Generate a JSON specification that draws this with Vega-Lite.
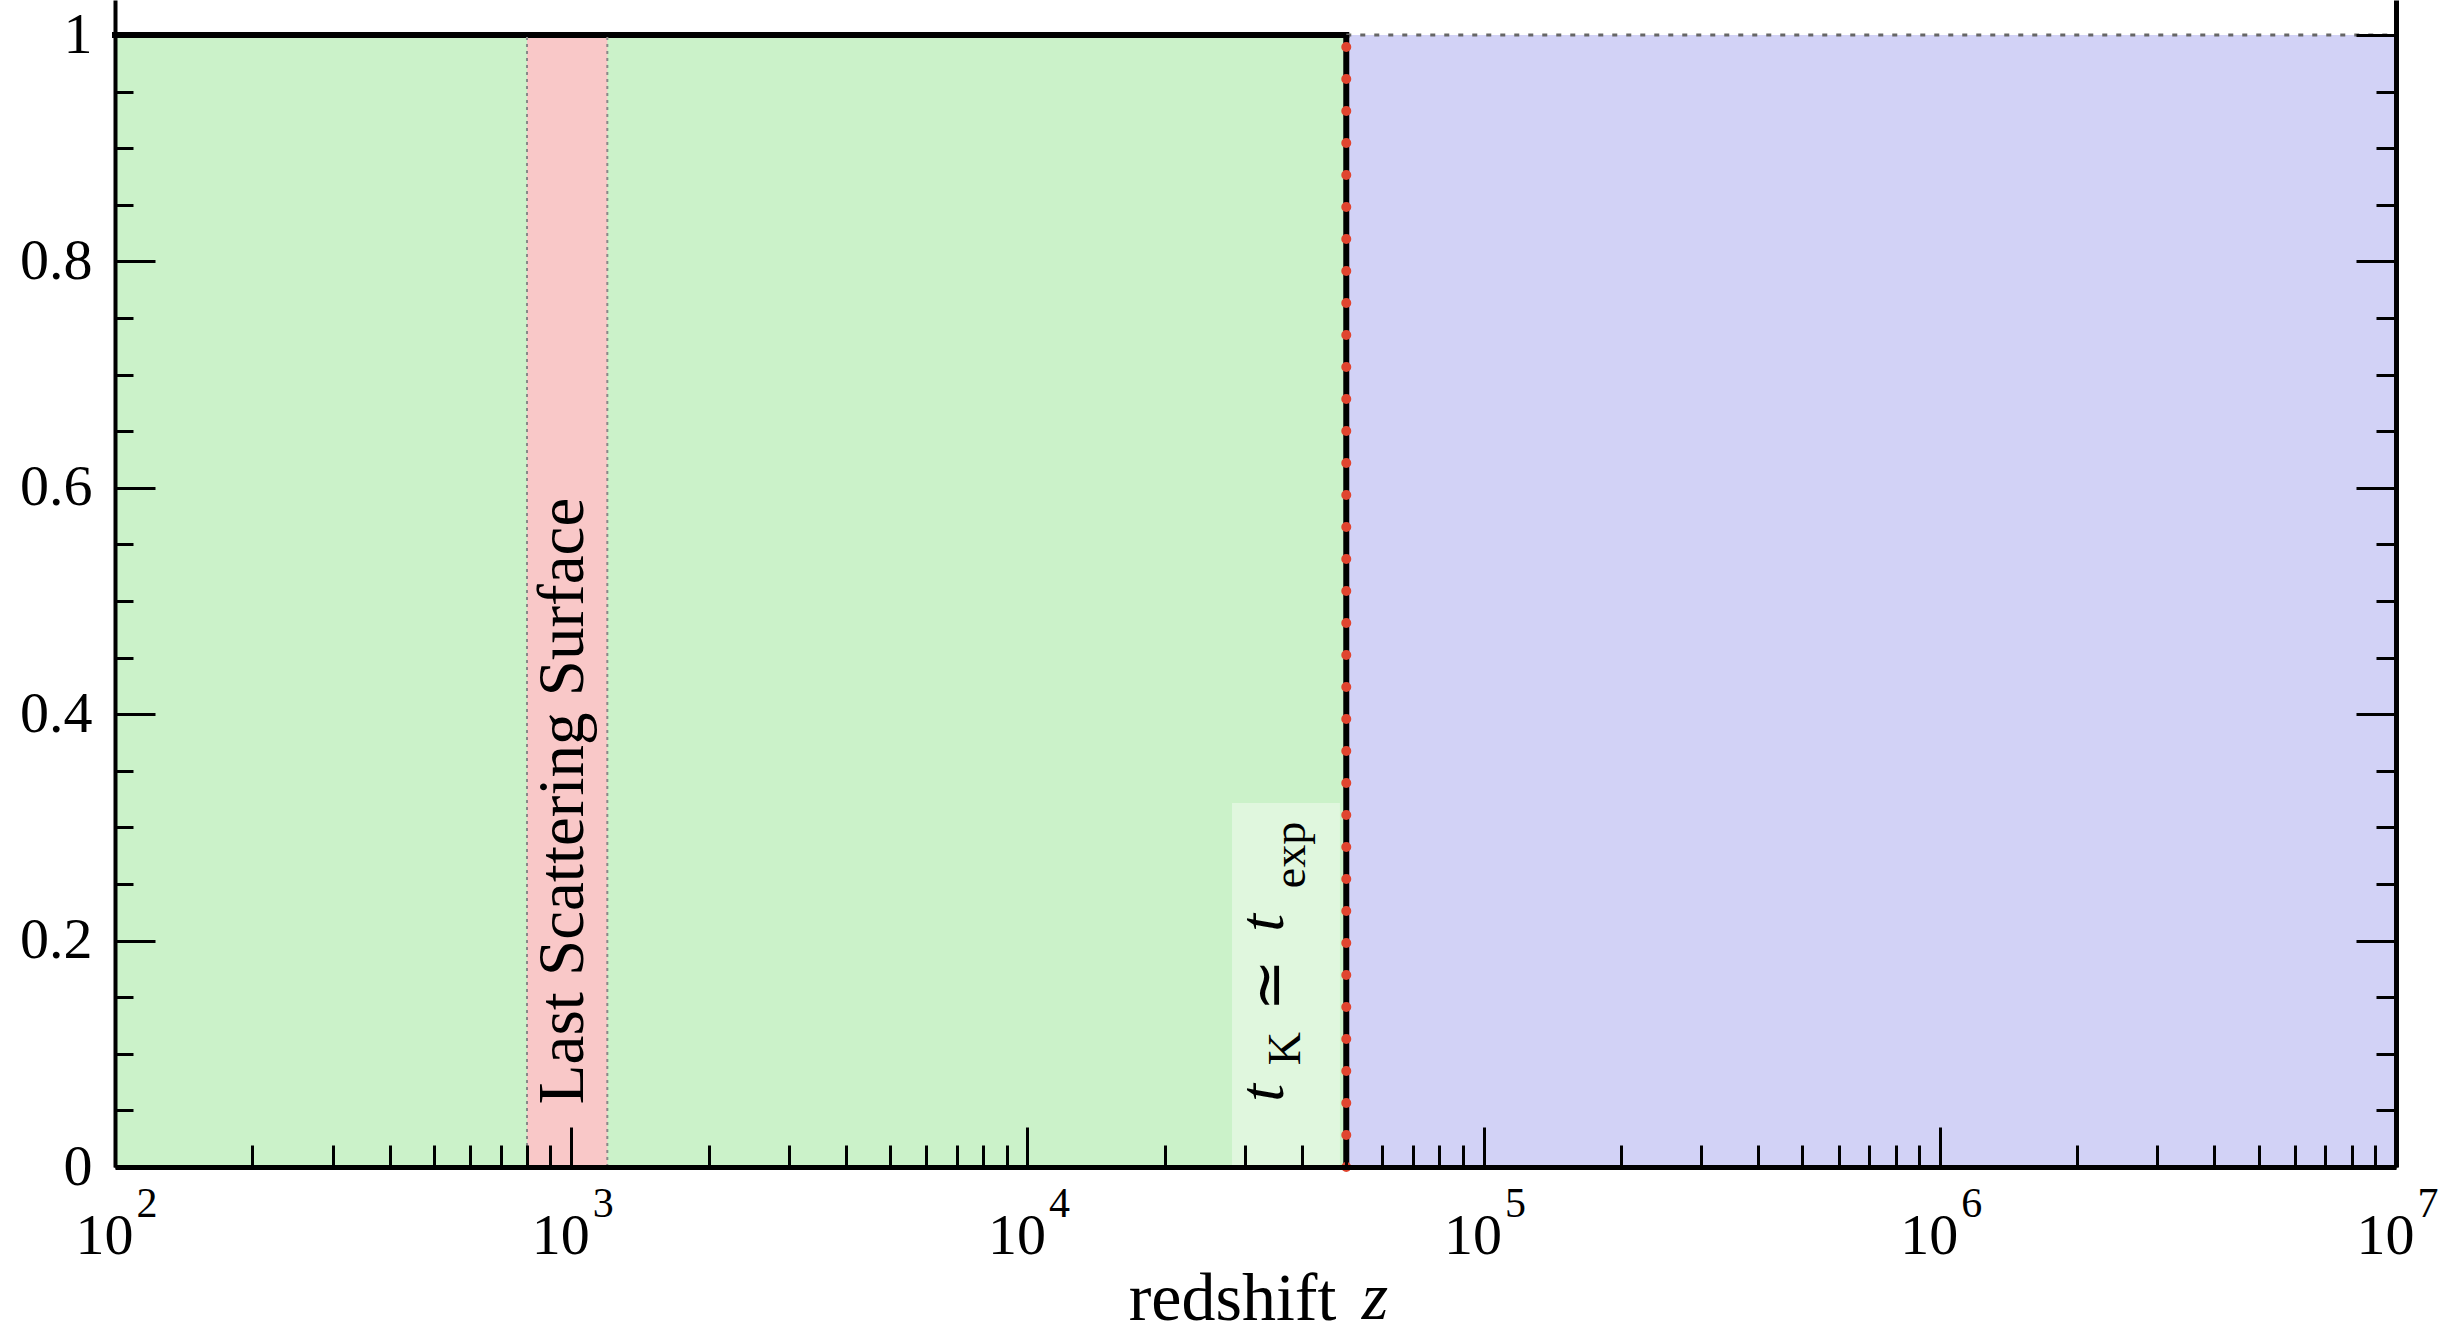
{
  "$schema": "https://vega.github.io/schema/vega-lite/v6.json",
  "width": 2281,
  "height": 1167,
  "autosize": {"type": "none"},
  "padding": {"left": 115, "top": 0, "right": 42, "bottom": 167},
  "background": "white",
  "config": {"view": {"stroke": null}, "font": "Liberation Serif"},
  "datasets": {
    "regions": [
      {"z0": 100, "z1": 50000, "y0": 0, "y1": 1, "r": "green"},
      {"z0": 50000, "z1": 10000000, "y0": 0, "y1": 1, "r": "blue"}
    ],
    "band": [{"z0": 800, "z1": 1200, "y0": 0, "y1": 1}],
    "box": [{"z0": 28090, "z1": 48420, "y0": 0, "y1": 0.3216}],
    "edges": [{"z": 800}, {"z": 1200}],
    "transition": [{"z": 50000}],
    "topleft": [{"z0": 100, "z1": 50000, "y": 1}],
    "topright": [{"z0": 50000, "z1": 10000000, "y": 1}],
    "exps": [
      {"z": 100, "e": "2"}, {"z": 1000, "e": "3"}, {"z": 10000, "e": "4"},
      {"z": 100000, "e": "5"}, {"z": 1000000, "e": "6"}, {"z": 10000000, "e": "7"}
    ],
    "lss": [{"z": 1061, "y": 0.3234, "s": "Last Scattering Surface"}],
    "math": [{"z": 36340, "y": 0.0654, "s": "t"}, {"z": 36340, "y": 0.2156, "s": "t"}],
    "mathsub": [{"z": 39580, "y": 0.1045, "s": "K"}, {"z": 40600, "y": 0.2756, "s": "exp"}],
    "sim": [{"z": 37630, "y": 0.1608, "s": "≃"}]
  },
  "layer": [
    {
      "data": {"name": "regions"},
      "mark": {"type": "rect"},
      "encoding": {
        "x": {"field": "z0", "type": "quantitative",
          "scale": {"type": "log", "domain": [100, 10000000], "nice": false},
          "axis": {"orient": "bottom", "values": [100, 1000, 10000, 100000, 1000000, 10000000],
            "labelExpr": "'10'", "tickSize": -40, "tickWidth": 3, "tickColor": "black",
            "domain": true, "domainWidth": 5, "domainColor": "black",
            "labelFont": "Liberation Serif", "labelFontSize": 58, "labelColor": "black",
            "labelPadding": 126, "labelBaseline": "alphabetic", "labelOffset": -11,
            "labelFlush": false, "labelOverlap": false, "grid": false,
            "title": "redshift", "titleFont": "Liberation Serif", "titleFontSize": 68,
            "titleFontWeight": "normal", "titleColor": "black", "titleX": 1117, "titleY": 152,
            "titleBaseline": "alphabetic", "titleAlign": "center", "zindex": 2}},
        "x2": {"field": "z1"},
        "y": {"field": "y0", "type": "quantitative",
          "scale": {"domain": [0, 1.031], "nice": false, "zero": false},
          "axis": {"orient": "left", "values": [0, 0.2, 0.4, 0.6, 0.8, 1], "format": ".1~f",
            "tickSize": -40, "tickWidth": 3, "tickColor": "black",
            "domain": true, "domainWidth": 4, "domainColor": "black",
            "labelFont": "Liberation Serif", "labelFontSize": 58, "labelColor": "black",
            "labelPadding": 63, "labelBaseline": "middle", "labelFlush": false,
            "labelOverlap": false, "grid": false, "title": null, "zindex": 2}},
        "y2": {"field": "y1"},
        "color": {"field": "r", "type": "nominal",
          "scale": {"domain": ["green", "blue"], "range": ["#cbf2c9", "#d2d2f6"]}, "legend": null}
      }
    },
    {
      "data": {"name": "band"},
      "mark": {"type": "rect", "color": "#f9c8c8"},
      "encoding": {
        "x": {"field": "z0", "type": "quantitative",
          "scale": {"type": "log", "domain": [100, 10000000], "nice": false},
          "axis": {"orient": "bottom",
            "values": [200, 300, 400, 500, 600, 700, 800, 900,
              2000, 3000, 4000, 5000, 6000, 7000, 8000, 9000,
              20000, 30000, 40000, 50000, 60000, 70000, 80000, 90000,
              200000, 300000, 400000, 500000, 600000, 700000, 800000, 900000,
              2000000, 3000000, 4000000, 5000000, 6000000, 7000000, 8000000, 9000000],
            "tickSize": -22, "tickWidth": 3, "tickColor": "black", "labels": false,
            "domain": false, "grid": false, "title": null, "zindex": 2}},
        "x2": {"field": "z1"},
        "y": {"field": "y0", "type": "quantitative",
          "scale": {"domain": [0, 1.031], "nice": false, "zero": false},
          "axis": {"orient": "left",
            "values": [0.05, 0.1, 0.15, 0.25, 0.3, 0.35, 0.45, 0.5, 0.55, 0.65, 0.7, 0.75, 0.85, 0.9, 0.95],
            "tickSize": -18, "tickWidth": 3, "tickColor": "black", "labels": false,
            "domain": false, "grid": false, "title": null, "zindex": 2}},
        "y2": {"field": "y1"}
      }
    },
    {
      "data": {"name": "box"},
      "mark": {"type": "rect", "color": "white", "opacity": 0.4},
      "encoding": {
        "x": {"field": "z0", "type": "quantitative",
          "scale": {"type": "log", "domain": [100, 10000000], "nice": false}, "axis": null},
        "x2": {"field": "z1"},
        "y": {"field": "y0", "type": "quantitative",
          "scale": {"domain": [0, 1.031], "nice": false, "zero": false},
          "axis": {"orient": "right", "values": [0, 0.2, 0.4, 0.6, 0.8, 1],
            "tickSize": -40, "tickWidth": 3, "tickColor": "black", "labels": false,
            "domain": true, "domainWidth": 5, "domainColor": "black",
            "grid": false, "title": null, "zindex": 2}},
        "y2": {"field": "y1"}
      }
    },
    {
      "data": {"name": "topleft"},
      "mark": {"type": "rule", "color": "black", "strokeWidth": 6, "strokeCap": "square"},
      "encoding": {
        "x": {"field": "z0", "type": "quantitative",
          "scale": {"type": "log", "domain": [100, 10000000], "nice": false}, "axis": null},
        "x2": {"field": "z1"},
        "y": {"field": "y", "type": "quantitative",
          "scale": {"domain": [0, 1.031], "nice": false, "zero": false},
          "axis": {"orient": "right",
            "values": [0.05, 0.1, 0.15, 0.25, 0.3, 0.35, 0.45, 0.5, 0.55, 0.65, 0.7, 0.75, 0.85, 0.9, 0.95],
            "tickSize": -20, "tickWidth": 3, "tickColor": "black", "labels": false,
            "domain": false, "grid": false, "title": null, "zindex": 2}}
      }
    },
    {
      "data": {"name": "topright"},
      "mark": {"type": "rule", "color": "#666666", "strokeWidth": 3, "strokeDash": [5, 9]},
      "encoding": {
        "x": {"field": "z0", "type": "quantitative",
          "scale": {"type": "log", "domain": [100, 10000000], "nice": false}, "axis": null},
        "x2": {"field": "z1"},
        "y": {"field": "y", "type": "quantitative",
          "scale": {"domain": [0, 1.031], "nice": false, "zero": false}, "axis": null}
      }
    },
    {
      "data": {"name": "edges"},
      "mark": {"type": "rule", "color": "#888888", "strokeWidth": 2, "strokeDash": [3, 4]},
      "encoding": {
        "x": {"field": "z", "type": "quantitative",
          "scale": {"type": "log", "domain": [100, 10000000], "nice": false}, "axis": null},
        "y": {"datum": 0, "type": "quantitative",
          "scale": {"domain": [0, 1.031], "nice": false, "zero": false}, "axis": null},
        "y2": {"datum": 1}
      }
    },
    {
      "data": {"name": "transition"},
      "mark": {"type": "rule", "color": "black", "strokeWidth": 6},
      "encoding": {
        "x": {"field": "z", "type": "quantitative",
          "scale": {"type": "log", "domain": [100, 10000000], "nice": false}, "axis": null},
        "y": {"datum": 0, "type": "quantitative",
          "scale": {"domain": [0, 1.031], "nice": false, "zero": false}, "axis": null},
        "y2": {"datum": 1}
      }
    },
    {
      "data": {"name": "transition"},
      "mark": {"type": "rule", "color": "#e0452f", "strokeWidth": 10, "strokeCap": "round", "strokeDash": [0, 32]},
      "encoding": {
        "x": {"field": "z", "type": "quantitative",
          "scale": {"type": "log", "domain": [100, 10000000], "nice": false}, "axis": null},
        "y": {"datum": 0, "type": "quantitative",
          "scale": {"domain": [0, 1.031], "nice": false, "zero": false}, "axis": null},
        "y2": {"datum": 1.0168}
      }
    },
    {
      "data": {"name": "lss"},
      "mark": {"type": "text", "angle": 270, "font": "Liberation Serif", "fontSize": 65,
        "align": "center", "baseline": "alphabetic", "color": "black"},
      "encoding": {
        "x": {"field": "z", "type": "quantitative",
          "scale": {"type": "log", "domain": [100, 10000000], "nice": false}, "axis": null},
        "y": {"field": "y", "type": "quantitative",
          "scale": {"domain": [0, 1.031], "nice": false, "zero": false}, "axis": null},
        "text": {"field": "s"}
      }
    },
    {
      "data": {"name": "math"},
      "mark": {"type": "text", "angle": 270, "font": "Liberation Serif", "fontStyle": "italic",
        "fontSize": 64, "align": "center", "baseline": "alphabetic", "color": "black"},
      "encoding": {
        "x": {"field": "z", "type": "quantitative",
          "scale": {"type": "log", "domain": [100, 10000000], "nice": false}, "axis": null},
        "y": {"field": "y", "type": "quantitative",
          "scale": {"domain": [0, 1.031], "nice": false, "zero": false}, "axis": null},
        "text": {"field": "s"}
      }
    },
    {
      "data": {"name": "mathsub"},
      "mark": {"type": "text", "angle": 270, "font": "Liberation Serif",
        "fontSize": 46, "align": "center", "baseline": "alphabetic", "color": "black"},
      "encoding": {
        "x": {"field": "z", "type": "quantitative",
          "scale": {"type": "log", "domain": [100, 10000000], "nice": false}, "axis": null},
        "y": {"field": "y", "type": "quantitative",
          "scale": {"domain": [0, 1.031], "nice": false, "zero": false}, "axis": null},
        "text": {"field": "s"}
      }
    },
    {
      "data": {"name": "sim"},
      "mark": {"type": "text", "angle": 270, "font": "DejaVu Serif",
        "fontSize": 62, "align": "center", "baseline": "alphabetic", "color": "black"},
      "encoding": {
        "x": {"field": "z", "type": "quantitative",
          "scale": {"type": "log", "domain": [100, 10000000], "nice": false}, "axis": null},
        "y": {"field": "y", "type": "quantitative",
          "scale": {"domain": [0, 1.031], "nice": false, "zero": false}, "axis": null},
        "text": {"field": "s"}
      }
    },
    {
      "data": {"name": "exps"},
      "mark": {"type": "text", "font": "Liberation Serif", "fontSize": 42,
        "align": "center", "baseline": "alphabetic", "dx": 32, "color": "black"},
      "encoding": {
        "x": {"field": "z", "type": "quantitative",
          "scale": {"type": "log", "domain": [100, 10000000], "nice": false}, "axis": null},
        "y": {"datum": -0.0442, "type": "quantitative",
          "scale": {"domain": [0, 1.031], "nice": false, "zero": false}, "axis": null},
        "text": {"field": "e"}
      }
    },
    {
      "data": {"values": [{"s": "z"}]},
      "mark": {"type": "text", "font": "Liberation Serif", "fontStyle": "italic", "fontSize": 68,
        "align": "center", "baseline": "alphabetic", "color": "black"},
      "encoding": {
        "x": {"datum": 57800, "type": "quantitative",
          "scale": {"type": "log", "domain": [100, 10000000], "nice": false}, "axis": null},
        "y": {"datum": -0.134, "type": "quantitative",
          "scale": {"domain": [0, 1.031], "nice": false, "zero": false}, "axis": null},
        "text": {"field": "s"}
      }
    }
  ],
  "resolve": {"axis": {"x": "independent", "y": "independent"}}
}
